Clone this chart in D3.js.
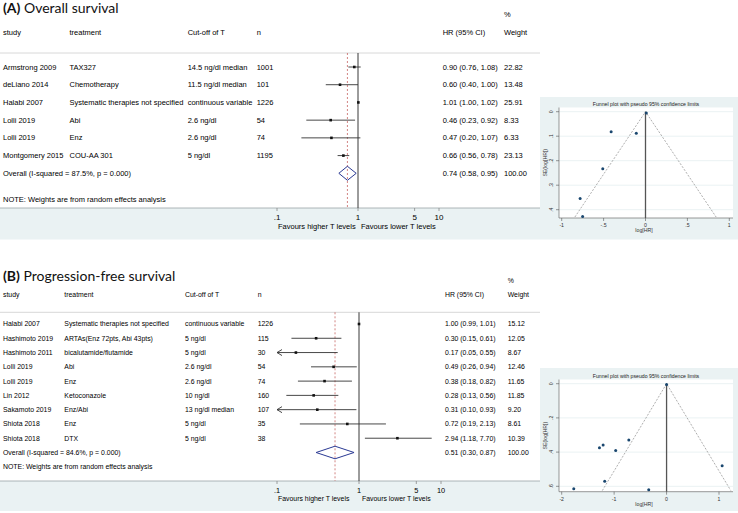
<!DOCTYPE html>
<meta charset="utf-8">
<style>
  body { margin: 0; background: #fff; }
  svg { display: block; font-family: "Liberation Sans", Arial, sans-serif; }
  .ptitle { font-family: Lato, "Open Sans", sans-serif; }
</style>
<body>
<svg width="738" height="513"></svg>
<script src="https://d3js.org/d3.v7.min.js"></script>
<script>
// ---- (A) overall survival ----
var osStudy = ["Armstrong 2009", "deLiano 2014", "Halabi 2007", "Lolli 2019", "Lolli 2019", "Montgomery 2015"];
var osTreatment = ["TAX327", "Chemotherapy", "Systematic therapies not specified", "Abi", "Enz", "COU-AA 301"];
var osCutoff = ["14.5 ng/dl median", "11.5 ng/dl median", "continuous variable", "2.6 ng/dl", "2.6 ng/dl", "5 ng/dl"];
var osN = ["1001", "101", "1226", "54", "74", "1195"];
var osHR = [0.90, 0.60, 1.01, 0.46, 0.47, 0.66];
var osLow = [0.76, 0.40, 1.00, 0.23, 0.20, 0.56];
var osHigh = [1.08, 1.00, 1.02, 0.92, 1.07, 0.78];
var osWeight = ["22.82", "13.48", "25.91", "8.33", "6.33", "23.13"];
var osPooled = [0.74, 0.58, 0.95];
var osPooledLabel = "Overall  (I-squared = 87.5%, p = 0.000)";

// funnel (A): log HR and its standard error
var osLogHR = [-0.11, -0.51, 0.01, -0.78, -0.75, -0.41];
var osSE = [0.088, 0.233, 0.005, 0.354, 0.428, 0.082];
var osFunnelX = [-1, -0.5, 0, 0.5, 1];
var osFunnelY = [0, 0.1, 0.2, 0.3, 0.4];

// ---- (B) progression-free survival ----
var pfsStudy = ["Halabi 2007", "Hashimoto 2019", "Hashimoto 2011", "Lolli 2019", "Lolli 2019", "Lin 2012", "Sakamoto 2019", "Shiota 2018", "Shiota 2018"];
var pfsTreatment = ["Systematic therapies not specified", "ARTAs(Enz 72pts, Abi 43pts)", "bicalutamide/flutamide", "Abi", "Enz", "Ketoconazole", "Enz/Abi", "Enz", "DTX"];
var pfsCutoff = ["continuous variable", "5 ng/dl", "5 ng/dl", "2.6 ng/dl", "2.6 ng/dl", "10 ng/dl", "13 ng/dl median", "5 ng/dl", "5 ng/dl"];
var pfsN = ["1226", "115", "30", "54", "74", "160", "107", "35", "38"];
var pfsHR = [1.00, 0.30, 0.17, 0.49, 0.38, 0.28, 0.31, 0.72, 2.94];
var pfsLow = [0.99, 0.15, 0.05, 0.26, 0.18, 0.13, 0.10, 0.19, 1.18];
var pfsHigh = [1.01, 0.61, 0.55, 0.94, 0.82, 0.56, 0.93, 2.13, 7.70];
var pfsWeight = ["15.12", "12.05", "8.67", "12.46", "11.65", "11.85", "9.20", "8.61", "10.39"];
var pfsPooled = [0.51, 0.30, 0.87];
var pfsPooledLabel = "Overall  (I-squared = 84.6%, p = 0.000)";

var pfsLogHR = [0.0, -1.21, -1.77, -0.72, -0.97, -1.28, -1.18, -0.34, 1.06];
var pfsSE = [0.005, 0.359, 0.615, 0.329, 0.39, 0.374, 0.57, 0.62, 0.48];
var pfsFunnelX = [-2, -1, 0, 1];
var pfsFunnelY = [0, 0.2, 0.4, 0.6];

var forestTicks = [0.1, 1, 5, 10];
var noteText = "NOTE: Weights are from random effects analysis";
var funnelTitle = "Funnel plot with pseudo 95% confidence limits";

var bg = "#eaf2f3";
var svg = d3.select("svg");

// stata style numbers: .1, -.5
function stataNum(d) { return String(d).replace("0.", "."); }

function drawForest(c) {
  var g = svg.append("g");
  var fs = c.fontSize;

  // bottom band
  g.append("rect").attr("x", 0).attr("y", c.bandTop).attr("width", 540)
    .attr("height", c.bandBottom - c.bandTop).attr("fill", bg);
  g.append("line").attr("x1", 0).attr("x2", 540).attr("y1", c.bandTop).attr("y2", c.bandTop)
    .attr("stroke", "#9aa3a6").attr("stroke-width", 0.8);

  // panel title
  var t = g.append("text").attr("class", "ptitle").attr("x", 3).attr("y", c.titleY)
    .style("font-size", c.titleSize + "px").attr("fill", "#111");
  t.append("tspan").attr("font-weight", "bold").text(c.letter);
  t.append("tspan").text(" " + c.title);

  // header
  var head = [["study", c.cols[0]], ["treatment", c.cols[1]], ["Cut-off of T", c.cols[2]],
              ["n", c.cols[3]], ["HR (95% CI)", c.cols[4]], ["Weight", c.cols[5]]];
  head.forEach(function (h) {
    g.append("text").attr("x", h[1]).attr("y", c.headY).attr("dy", "0.35em")
      .style("font-size", fs + "px").text(h[0]);
  });
  g.append("text").attr("x", c.cols[5]).attr("y", c.pctY).attr("dy", "0.35em")
    .style("font-size", fs + "px").text("%");

  g.append("line").attr("x1", 0).attr("x2", 540).attr("y1", c.sepY).attr("y2", c.sepY)
    .attr("stroke", "#d8d8d8").attr("stroke-width", 1);

  var x = d3.scaleLog().domain([0.1, 10]).range(c.xRange);
  var n = c.study.length;
  var y = d3.scaleLinear().domain([0, n]).range([c.firstRow, c.overallRow]);

  // reference lines
  g.append("line").attr("x1", x(1)).attr("x2", x(1)).attr("y1", c.sepY).attr("y2", c.bandTop)
    .attr("stroke", "#222").attr("stroke-width", 0.9);
  g.append("line").attr("x1", x(c.pooled[0])).attr("x2", x(c.pooled[0]))
    .attr("y1", c.sepY).attr("y2", c.bandTop)
    .attr("stroke", "#c0504d").attr("stroke-width", 0.7).attr("stroke-dasharray", "2,2");

  // rows
  var rows = d3.range(n);
  var cells = [c.study, c.treatment, c.cutoff, c.n];
  cells.forEach(function (arr, k) {
    g.selectAll(null).data(rows).enter().append("text")
      .attr("x", c.cols[k]).attr("y", function (i) { return y(i); }).attr("dy", "0.35em")
      .style("font-size", fs + "px").text(function (i) { return arr[i]; });
  });
  g.selectAll(null).data(rows).enter().append("text")
    .attr("x", c.cols[4]).attr("y", function (i) { return y(i); }).attr("dy", "0.35em")
    .style("font-size", fs + "px")
    .text(function (i) {
      return c.hr[i].toFixed(2) + " (" + c.lo[i].toFixed(2) + ", " + c.hi[i].toFixed(2) + ")";
    });
  g.selectAll(null).data(rows).enter().append("text")
    .attr("x", c.cols[5]).attr("y", function (i) { return y(i); }).attr("dy", "0.35em")
    .style("font-size", fs + "px").text(function (i) { return c.weight[i]; });

  // confidence intervals
  g.selectAll(null).data(rows).enter().append("line")
    .attr("x1", function (i) { return x(Math.max(c.lo[i], 0.1)); })
    .attr("x2", function (i) { return x(c.hi[i]); })
    .attr("y1", function (i) { return y(i); }).attr("y2", function (i) { return y(i); })
    .attr("stroke", "#333").attr("stroke-width", 0.9);
  // arrows where CI runs off the axis
  g.selectAll(null).data(rows.filter(function (i) { return c.lo[i] <= 0.1; })).enter().append("path")
    .attr("d", function (i) {
      var x0 = x(0.1), y0 = y(i);
      return "M" + (x0 + 5) + "," + (y0 - 3) + "L" + x0 + "," + y0 + "L" + (x0 + 5) + "," + (y0 + 3);
    })
    .attr("fill", "none").attr("stroke", "#333").attr("stroke-width", 0.9);
  g.selectAll(null).data(rows).enter().append("rect")
    .attr("x", function (i) { return x(c.hr[i]) - 1.3; })
    .attr("y", function (i) { return y(i) - 1.3; })
    .attr("width", 2.6).attr("height", 2.6).attr("fill", "#111");

  // overall
  var oy = y(n);
  g.append("text").attr("x", c.cols[0]).attr("y", oy).attr("dy", "0.35em")
    .style("font-size", fs + "px").text(c.pooledLabel);
  g.append("text").attr("x", c.cols[4]).attr("y", oy).attr("dy", "0.35em")
    .style("font-size", fs + "px")
    .text(c.pooled[0].toFixed(2) + " (" + c.pooled[1].toFixed(2) + ", " + c.pooled[2].toFixed(2) + ")");
  g.append("text").attr("x", c.cols[5]).attr("y", oy).attr("dy", "0.35em")
    .style("font-size", fs + "px").text("100.00");
  var h = c.diamondH;
  g.append("path")
    .attr("d", "M" + x(c.pooled[1]) + "," + oy + "L" + x(c.pooled[0]) + "," + (oy - h) +
      "L" + x(c.pooled[2]) + "," + oy + "L" + x(c.pooled[0]) + "," + (oy + h) + "Z")
    .attr("fill", "none").attr("stroke", "#2b3a94").attr("stroke-width", 1);

  g.append("text").attr("x", c.cols[0]).attr("y", c.noteY).attr("dy", "0.35em")
    .style("font-size", fs + "px").text(noteText);

  // x axis in the band
  var ax = g.append("g");
  ax.selectAll(null).data(forestTicks).enter().append("line")
    .attr("x1", function (d) { return x(d); }).attr("x2", function (d) { return x(d); })
    .attr("y1", c.bandTop).attr("y2", c.bandTop + 3).attr("stroke", "#888").attr("stroke-width", 0.8);
  ax.selectAll(null).data(forestTicks).enter().append("text")
    .attr("x", function (d) { return x(d); }).attr("y", c.bandTop + 9).attr("dy", "0.35em")
    .attr("text-anchor", "middle").style("font-size", (fs + 0.5) + "px").text(stataNum);
  ax.append("text").attr("x", x(0.1) + 1).attr("y", c.bandTop + 18).attr("dy", "0.35em")
    .style("font-size", fs + "px").text("Favours higher T levels");
  ax.append("text").attr("x", x(1) + 3).attr("y", c.bandTop + 18).attr("dy", "0.35em")
    .style("font-size", fs + "px").text("Favours lower T levels");
}

function drawFunnel(c) {
  var g = svg.append("g");
  g.append("rect").attr("x", 540).attr("y", c.boxTop).attr("width", 198)
    .attr("height", c.boxBottom - c.boxTop).attr("fill", bg);
  g.append("rect").attr("x", 559).attr("y", c.plotTop).attr("width", 174)
    .attr("height", c.plotBottom - c.plotTop).attr("fill", "#fff");

  var x = d3.scaleLinear().domain(c.xDomain).range(c.xRange);
  var y = d3.scaleLinear().domain(c.yDomain).range(c.yRange);

  // grid
  g.selectAll(null).data(c.yTicks).enter().append("line")
    .attr("x1", 559).attr("x2", 733)
    .attr("y1", function (d) { return y(d); }).attr("y2", function (d) { return y(d); })
    .attr("stroke", bg).attr("stroke-width", 1);

  // axes
  var fsz = 5.2;
  g.append("line").attr("x1", 559).attr("x2", 559).attr("y1", c.plotTop).attr("y2", c.plotBottom)
    .attr("stroke", "#555").attr("stroke-width", 0.6);
  g.append("line").attr("x1", 559).attr("x2", 733).attr("y1", c.plotBottom).attr("y2", c.plotBottom)
    .attr("stroke", "#555").attr("stroke-width", 0.6);
  g.selectAll(null).data(c.yTicks).enter().append("line")
    .attr("x1", 556).attr("x2", 559)
    .attr("y1", function (d) { return y(d); }).attr("y2", function (d) { return y(d); })
    .attr("stroke", "#555").attr("stroke-width", 0.6);
  g.selectAll(null).data(c.yTicks).enter().append("text")
    .attr("transform", function (d) { return "translate(553," + y(d) + ") rotate(-90)"; })
    .attr("text-anchor", "middle").style("font-size", fsz + "px").attr("fill", "#333")
    .text(stataNum);
  g.selectAll(null).data(c.xTicks).enter().append("line")
    .attr("x1", function (d) { return x(d); }).attr("x2", function (d) { return x(d); })
    .attr("y1", c.plotBottom).attr("y2", c.plotBottom + 3)
    .attr("stroke", "#555").attr("stroke-width", 0.6);
  g.selectAll(null).data(c.xTicks).enter().append("text")
    .attr("x", function (d) { return x(d); }).attr("y", c.plotBottom + 7).attr("dy", "0.35em")
    .attr("text-anchor", "middle").style("font-size", fsz + "px").attr("fill", "#333")
    .text(stataNum);
  g.append("text").attr("x", (559 + 733) / 2 - 2).attr("y", c.plotBottom + 12.5).attr("dy", "0.35em")
    .attr("text-anchor", "middle").style("font-size", fsz + "px").attr("fill", "#333").text("log[HR]");
  g.append("text")
    .attr("transform", "translate(547," + (c.plotTop + c.plotBottom) / 2 + ") rotate(-90)")
    .attr("text-anchor", "middle").style("font-size", fsz + "px").attr("fill", "#333").text("SE(log[HR])");
  g.append("text").attr("x", (559 + 733) / 2).attr("y", c.plotTop - 2)
    .attr("text-anchor", "middle").style("font-size", fsz + "px").attr("fill", "#222").text(funnelTitle);

  // pseudo 95% limits
  var seMax = c.seMax;
  g.append("path")
    .attr("d", "M" + x(c.center - 1.96 * seMax) + "," + y(seMax) + "L" + x(c.center) + "," + y(0) +
      "L" + x(c.center + 1.96 * seMax) + "," + y(seMax))
    .attr("fill", "none").attr("stroke", "#777").attr("stroke-width", 0.6).attr("stroke-dasharray", "2,1.5");
  g.append("line").attr("x1", x(c.center)).attr("x2", x(c.center)).attr("y1", y(0)).attr("y2", c.plotBottom)
    .attr("stroke", "#555").attr("stroke-width", 1.3);

  g.selectAll(null).data(d3.range(c.logHR.length)).enter().append("circle")
    .attr("cx", function (i) { return x(c.logHR[i]); })
    .attr("cy", function (i) { return y(c.se[i]); })
    .attr("r", 1.5).attr("fill", "#1a476f");
}

drawForest({
  letter: "(A)", title: "Overall survival", titleY: 13, titleSize: 14,
  fontSize: 7.5, headY: 32, pctY: 14, sepY: 53, firstRow: 67, overallRow: 173.3,
  noteY: 199, bandTop: 208, bandBottom: 239.5, xRange: [277, 439],
  cols: [3, 69.5, 187.7, 256.7, 442.7, 504], diamondH: 7,
  study: osStudy, treatment: osTreatment, cutoff: osCutoff, n: osN,
  hr: osHR, lo: osLow, hi: osHigh, weight: osWeight,
  pooled: osPooled, pooledLabel: osPooledLabel
});

drawForest({
  letter: "(B)", title: "Progression-free survival", titleY: 281, titleSize: 14,
  fontSize: 6.9, headY: 295, pctY: 281, sepY: 312.3, firstRow: 324, overallRow: 452.5,
  noteY: 466.7, bandTop: 481, bandBottom: 511, xRange: [277, 441],
  cols: [3, 64.3, 185, 257.7, 445, 507.7], diamondH: 6.3,
  study: pfsStudy, treatment: pfsTreatment, cutoff: pfsCutoff, n: pfsN,
  hr: pfsHR, lo: pfsLow, hi: pfsHigh, weight: pfsWeight,
  pooled: pfsPooled, pooledLabel: pfsPooledLabel
});

drawFunnel({
  boxTop: 97, boxBottom: 239.5, plotTop: 107.5, plotBottom: 218,
  xDomain: [-1, 1], xRange: [561.7, 729.3], yDomain: [0, 0.4], yRange: [111.7, 209.7],
  xTicks: osFunnelX, yTicks: osFunnelY, center: 0, seMax: 0.43,
  logHR: osLogHR, se: osSE
});

drawFunnel({
  boxTop: 368, boxBottom: 511, plotTop: 379.5, plotBottom: 491.7,
  xDomain: [-2, 1], xRange: [561.7, 719], yDomain: [0, 0.6], yRange: [383.7, 486.3],
  xTicks: pfsFunnelX, yTicks: pfsFunnelY, center: 0, seMax: 0.625,
  logHR: pfsLogHR, se: pfsSE
});
</script>
</body>
